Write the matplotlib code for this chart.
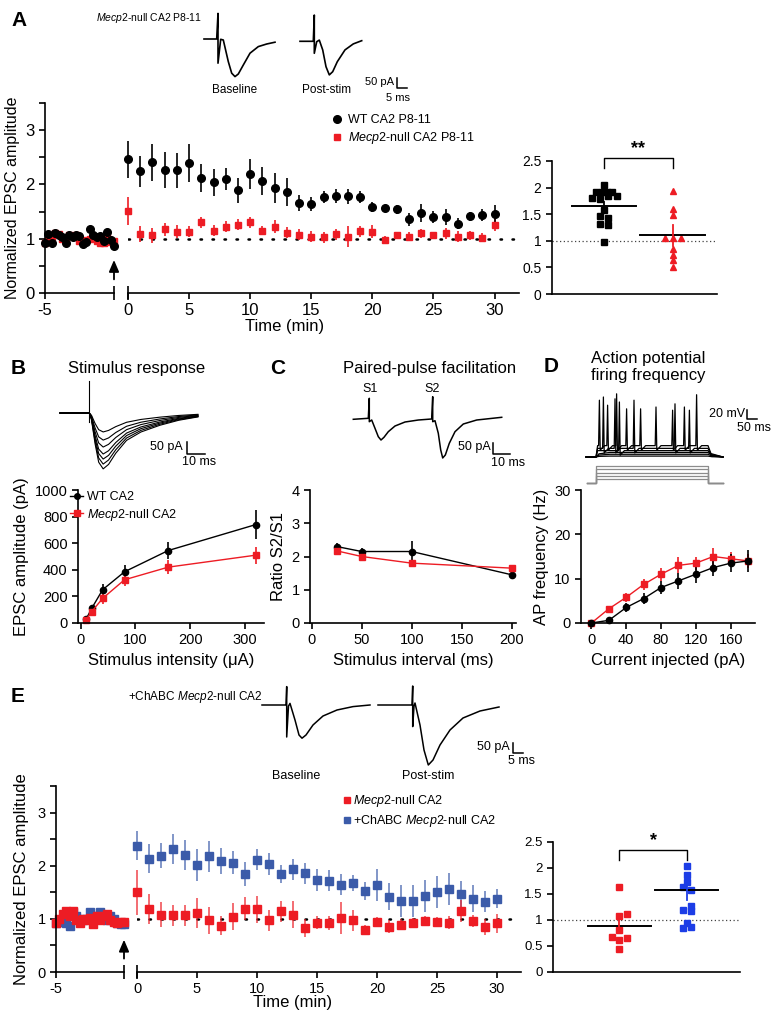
import numpy as np
import matplotlib
matplotlib.use("Agg")
import matplotlib.pyplot as plt
from matplotlib.lines import Line2D

plt.rcParams.update({
    'font.family': ['Liberation Sans', 'DejaVu Sans'],
    'mathtext.fontset': 'custom',
    'mathtext.rm': 'Liberation Sans',
    'mathtext.it': 'Liberation Sans:italic',
    'axes.unicode_minus': False,
    'axes.linewidth': 1.2,
    'xtick.major.width': 1.2, 'ytick.major.width': 1.2,
    'xtick.major.size': 4, 'ytick.major.size': 4,
})

RED = '#ed1c24'
BLUE = '#3b5ba9'
BRIGHT_BLUE = '#1c3de6'
MECP2 = r'$\mathit{Mecp2}$'

# ---------------- A: LTP time course, P8-11 ----------------
base_t = np.round(np.arange(-5, -0.99, 0.2), 1)
post_t = np.arange(0, 31)

a_wt_base = [0.92, 1.09, 0.93, 1.10, 1.06, 1.04, 0.92, 1.06, 1.04, 1.07, 1.05,
             0.90, 0.94, 1.18, 1.07, 1.04, 1.05, 0.95, 1.12, 0.97, 0.86]
a_wt_base_err = [0.05, 0.06, 0.05, 0.05, 0.04, 0.05, 0.05, 0.06, 0.04, 0.05, 0.05,
                 0.04, 0.05, 0.06, 0.05, 0.04, 0.05, 0.05, 0.06, 0.05, 0.05]
a_null_base = [0.92, 0.98, 1.04, 1.10, 1.08, 1.00, 1.02, 1.06, 1.05, 1.07, 0.96,
               0.95, 0.98, 1.00, 1.02, 0.95, 0.92, 0.92, 1.04, 0.94, 0.96]
a_null_base_err = [0.06, 0.05, 0.06, 0.05, 0.06, 0.05, 0.07, 0.05, 0.06, 0.05, 0.06,
                   0.05, 0.06, 0.05, 0.06, 0.05, 0.06, 0.05, 0.06, 0.05, 0.05]
a_wt_post = [2.46, 2.24, 2.41, 2.26, 2.26, 2.39, 2.12, 2.04, 2.10, 1.89, 2.19,
             2.07, 1.93, 1.86, 1.66, 1.64, 1.76, 1.78, 1.78, 1.77, 1.59,
             1.57, 1.54, 1.36, 1.47, 1.40, 1.40, 1.28, 1.41, 1.44, 1.46]
a_wt_err = [0.34, 0.28, 0.34, 0.33, 0.32, 0.35, 0.26, 0.25, 0.20, 0.23, 0.27,
            0.26, 0.28, 0.26, 0.15, 0.13, 0.11, 0.13, 0.14, 0.11, 0.09,
            0.06, 0.08, 0.12, 0.17, 0.11, 0.15, 0.10, 0.09, 0.11, 0.16]
a_null_post = [1.51, 1.09, 1.06, 1.17, 1.13, 1.13, 1.30, 1.15, 1.22, 1.26, 1.30,
               1.15, 1.22, 1.11, 1.07, 1.04, 1.03, 1.08, 1.04, 1.14, 1.13,
               0.98, 1.06, 1.04, 1.10, 1.06, 1.10, 1.04, 1.06, 1.02, 1.26]
a_null_err = [0.25, 0.15, 0.14, 0.12, 0.12, 0.10, 0.10, 0.10, 0.10, 0.10, 0.10,
              0.09, 0.12, 0.10, 0.10, 0.10, 0.10, 0.10, 0.20, 0.10, 0.12,
              0.07, 0.07, 0.08, 0.08, 0.07, 0.10, 0.10, 0.08, 0.08, 0.12]

# A: per-cell potentiation (value, horizontal jitter)
a_sc_wt = [2.05, 1.92, 1.91, 1.92, 1.91, 1.84, 1.81, 1.78, 1.84, 1.57, 1.47, 1.42, 1.32, 1.29, 0.97]
a_sc_wt_jit = [0, -0.116, -0.034, 0.048, 0.111, 0.184, -0.179, -0.058, 0.063, 0, -0.058, 0.058, -0.058, 0.058, 0]
a_sc_null = [1.93, 1.59, 1.48, 1.06, 1.06, 1.06, 0.84, 0.73, 0.63, 0.51]
a_sc_null_jit = [0, 0, 0, -0.111, 0, 0.121, 0, 0, 0, 0]
a_sc_mean = [1.65, 1.10]
a_sc_sem = [0.08, 0.19]

# A example traces (ms, pA)
a_base_tr_t = [0, 6.35, 7, 7, 8.35, 9.65, 12.15, 13.85, 15.5, 17.15, 19.65, 23, 27.15, 31.35, 35.5]
a_base_tr_i = [0, 0, 128, -121, -1.5, -5, -113, -171, -188, -175, -130, -71, -38, -25, -16]
a_post_tr_t = [0, 6.65, 7.15, 7.15, 8.35, 9.65, 11.35, 13, 14.65, 16.35, 18.65, 22.5, 26.65, 30.85]
a_post_tr_i = [0, 0, 131, -60, -2, 6, -43, -127, -168, -152, -102, -43, -13, 3]

# ---------------- B: input-output ----------------
b_int = [10, 20, 40, 80, 160, 320]
b_wt = [30, 110, 250, 385, 545, 740]
b_wt_err = [10, 25, 45, 50, 65, 110]
b_null = [25, 85, 185, 325, 420, 510]
b_null_err = [10, 20, 40, 45, 55, 65]
b_tr_amp = [79, 113, 142, 171, 192, 213, 233]
b_tr_shape_t = [0, 16.3, 17.5, 19.5, 21.5, 24, 27, 31, 37, 45, 55.5, 66, 76.7]
b_tr_shape_f = [0, 0, 0.12, 0.55, 0.88, 1.0, 0.92, 0.72, 0.49, 0.34, 0.22, 0.13, 0.07]
b_artifact = [16.3, 133, -37]

# ---------------- C: paired-pulse ----------------
c_int = [25, 50, 100, 200]
c_wt = [2.30, 2.15, 2.15, 1.45]
c_wt_err = [0.12, 0.10, 0.32, 0.05]
c_null = [2.17, 2.00, 1.80, 1.65]
c_null_err = [0.10, 0.15, 0.08, 0.05]
c_tr_t = [0, 8.85, 9.44, 9.44, 10.86, 12.8, 14.75, 16.34, 18.1, 20.65, 24.6, 30.5, 38.35, 46.26,
          46.85, 46.85, 48.2, 50.15, 51.57, 52.75, 54.3, 56.64, 60, 64.9, 72.8, 87.56]
c_tr_i = [0, 4.5, 94.5, -10.8, -3.2, -40.5, -78.3, -93.2, -81, -55.8, -30.2, -12.2, -3.2, 1.4,
          101.7, -10.8, -6.3, -63, -138, -174, -160.6, -108, -55.8, -21.2, -3.2, 9]

# ---------------- D: AP firing ----------------
d_cur = [0, 20, 40, 60, 80, 100, 120, 140, 160, 180]
d_null = [0, 3.2, 5.8, 8.7, 11, 13, 13.5, 15, 14.5, 14]
d_null_err = [0.2, 0.5, 1.0, 1.3, 1.5, 1.8, 1.5, 2.0, 1.5, 1.5]
d_wt = [0, 0.6, 3.5, 5.5, 8, 9.5, 11, 12.5, 13.5, 14]
d_wt_err = [0.2, 0.3, 1.0, 1.3, 1.5, 1.8, 2.0, 2.0, 2.0, 2.5]
d_spikes = [[67, 108, 153, 203, 273, 350, 433, 492, 553], [87, 145, 240, 445, 517], [167]]
d_peaks = [[125, 114, 139, 106, 106, 110, 103, 110, 137], [132, 128, 125, 117, 103], [121]]
d_spike_plateau = [25, 19, 14]
d_sub_plateau = [2, 6, 10]
d_step_on, d_step_off, d_sweep_end = 50, 610, 685
d_protocol = [20, 40, 60, 80, 100]

# ---------------- E: ChABC rescue ----------------
e_null_base = [0.93, 1.00, 1.10, 1.15, 1.05, 1.15, 0.97, 0.93, 1.00, 0.98, 1.02,
               0.90, 1.05, 0.98, 1.05, 1.10, 0.97, 0.95, 0.93, 0.95, 0.94]
e_chabc_base = [0.92, 0.95, 0.97, 0.92, 0.87, 1.12, 1.05, 1.00, 0.97, 1.00, 1.12,
                1.00, 1.05, 1.12, 1.00, 0.97, 1.05, 1.00, 0.93, 0.90, 0.90]
e_base_err = [0.05, 0.06, 0.05, 0.06, 0.05, 0.06, 0.05, 0.05, 0.06, 0.05, 0.05,
              0.06, 0.05, 0.05, 0.06, 0.05, 0.06, 0.05, 0.05, 0.06, 0.05]
e_chabc_post = [2.38, 2.13, 2.19, 2.31, 2.20, 2.01, 2.18, 2.09, 2.06, 1.84, 2.11,
                2.03, 1.84, 1.93, 1.86, 1.73, 1.72, 1.64, 1.67, 1.52, 1.63,
                1.42, 1.34, 1.33, 1.43, 1.50, 1.57, 1.47, 1.38, 1.32, 1.38]
e_chabc_err = [0.27, 0.27, 0.24, 0.28, 0.28, 0.30, 0.29, 0.24, 0.22, 0.23, 0.20,
               0.20, 0.17, 0.20, 0.20, 0.20, 0.20, 0.20, 0.15, 0.17, 0.30,
               0.25, 0.30, 0.30, 0.30, 0.30, 0.30, 0.25, 0.25, 0.20, 0.18]
e_null_post = [1.50, 1.19, 1.08, 1.07, 1.07, 1.11, 0.97, 0.87, 1.04, 1.19, 1.18,
               0.97, 1.14, 1.08, 0.83, 0.93, 0.92, 1.02, 0.97, 0.79, 0.94,
               0.85, 0.89, 0.92, 0.96, 0.94, 0.93, 1.15, 0.96, 0.84, 0.92]
e_null_err = [0.42, 0.28, 0.23, 0.20, 0.20, 0.28, 0.25, 0.18, 0.25, 0.22, 0.25,
              0.20, 0.20, 0.25, 0.17, 0.13, 0.13, 0.30, 0.20, 0.10, 0.10,
              0.12, 0.10, 0.10, 0.10, 0.10, 0.12, 0.20, 0.12, 0.15, 0.18]
e_sc_null = [1.63, 1.07, 1.12, 0.80, 0.67, 0.66, 0.62, 0.44]
e_sc_null_jit = [0, 0, 0.117, 0, -0.114, 0.117, 0, 0]
e_sc_chabc = [2.04, 1.86, 1.74, 1.63, 1.58, 1.27, 1.20, 1.17, 0.94, 0.85, 0.87]
e_sc_chabc_jit = [0, 0, 0, -0.06, 0.06, 0.06, -0.06, 0.06, 0, -0.06, 0.06]
e_sc_mean = [0.88, 1.58]
e_sc_sem = [0.13, 0.20]
e_base_tr_t = [0, 12, 12.35, 12.35, 13.25, 14, 16.5, 18.5, 20, 22, 25.5, 30.5, 37.5, 45.5, 54]
e_base_tr_i = [0, 0, 92, -160, -5, 8, -75, -150, -166, -150, -100, -55, -25, -8, 0]
e_post_tr_t = [0, 17, 17.35, 17.35, 18, 18.5, 21, 23, 25.15, 27.5, 31, 36, 42.5, 51, 60.5]
e_post_tr_i = [0, 0, 95, -108, -5, 10, -100, -225, -300, -275, -200, -125, -65, -30, -10]

# ---------------- layout helpers (pixel coordinates) ----------------
W, H = 779, 1019
fig = plt.figure(figsize=(W / 100, H / 100), dpi=100)


def box(x0, y0, x1, y1, **kw):
    return fig.add_axes([x0 / W, 1 - y1 / H, (x1 - x0) / W, (y1 - y0) / H], **kw)


def ftxt(x, y, s, **kw):
    kw.setdefault('va', 'center')
    return fig.text(x / W, 1 - y / H, s, **kw)


def draw_traces(ox, oy, sx, sy, traces, color='k', lw=1.0):
    # (ox, oy): pixel of the data origin; sx, sy: data units per pixel
    allt = np.concatenate([np.asarray(t, float) for t, v in traces])
    allv = np.concatenate([np.asarray(v, float) for t, v in traces])
    x0, x1 = ox + allt.min() / sx - 3, ox + allt.max() / sx + 3
    y0, y1 = oy - allv.max() / sy - 3, oy - allv.min() / sy + 3
    ax = box(x0, y0, x1, y1)
    ax.set_xlim((x0 - ox) * sx, (x1 - ox) * sx)
    ax.set_ylim((oy - y1) * sy, (oy - y0) * sy)
    ax.axis('off')
    for t, v in traces:
        ax.plot(t, v, color=color, lw=lw, solid_joinstyle='round')
    return ax


def scalebar(xc, yc, sx, sy, lx, ly):
    draw_traces(xc, yc, sx, sy, [([0, 0, lx], [ly, 0, 0])], lw=1.1)


def eb(ax, x, y, e, fmt, color, ms, lw=1.0, ecolor=None, alpha=1.0):
    c = ax.errorbar(x, y, yerr=e, fmt=fmt, color=color, ecolor=ecolor or color, ms=ms,
                    mec=color, elinewidth=1.2, capsize=0, lw=lw)
    for art in c.get_children():
        art.set_clip_on(False)
    c[2][0].set_alpha(alpha)
    return c


def timecourse(x0, xb0, xb1, x1, y_top, y_bot, fs):
    axl = box(x0, y_top, xb0, y_bot)
    axr = box(xb1, y_top, x1, y_bot, sharey=axl)
    for ax in (axl, axr):
        ax.spines[['top', 'right']].set_visible(False)
        ax.set_facecolor('none')
    axr.spines['left'].set_visible(False)
    axr.tick_params(axis='y', left=False, labelleft=False)
    axl.set_ylim(0, 3.5)
    yt = np.arange(0, 3.51, 0.5)
    axl.set_yticks(yt, [f'{v:g}' if v == int(v) else '' for v in yt])
    axl.set_xlim(-5, -1)
    axl.set_xticks([-5])
    axl.set_xticks([-1], minor=True)
    axr.set_xlim(0, 32)
    axr.set_xticks(np.arange(0, 31, 5))
    axr.xaxis.remove_overlapping_locs = False
    axr.set_xticks([0], minor=True)
    for ax in (axl, axr):
        ax.tick_params(which='minor', direction='inout', length=10, width=1.2)
        ax.tick_params(labelsize=fs)
    axr.axhline(1, color='k', lw=1.8, ls=(0, (0.6, 4.2)), dash_capstyle='round', zorder=1)
    axl.annotate('', xy=(-1, 0.66), xytext=(-1, 0.2),
                 arrowprops=dict(arrowstyle='-|>,head_length=0.7,head_width=0.3',
                                 color='k', lw=1.3), annotation_clip=False)
    return axl, axr


def scatter_panel(x0, y_top, x1, y_bot, xlim, fs):
    ax = box(x0, y_top, x1, y_bot)
    ax.spines[['top', 'right']].set_visible(False)
    ax.set_xlim(*xlim)
    ax.set_ylim(0, 2.5)
    ax.set_xticks([])
    ax.set_yticks(np.arange(0, 2.51, 0.5), ['0', '0.5', '1', '1.5', '2', '2.5'])
    ax.tick_params(labelsize=fs)
    ax.axhline(1, color='#444444', lw=0.9, ls=(0, (1, 2)), zorder=0)
    return ax


def group_summary(ax, g, mean, sem, sem_color):
    ax.plot([g - 0.47, g + 0.47], [mean, mean], color='k', lw=1.4, zorder=3)
    ax.plot([g, g], [mean - sem, mean + sem], color=sem_color, lw=1.3, zorder=3)


def bracket(ax, y_low, y_high, star):
    ax.plot([1, 1, 2, 2], [y_low, y_high, y_high, y_low], color='k', lw=1.0, clip_on=False)
    ax.text(1.5, y_high + 0.03, star, ha='center', va='bottom', fontsize=13, fontweight='bold')


# ---------------- Panel A ----------------
ftxt(19, 20, 'A', fontsize=15, fontweight='bold', ha='center')
ftxt(202, 18, MECP2 + '-null CA2 P8-11', fontsize=7.5, ha='right')
draw_traces(204, 39, 0.5, 5, [(a_base_tr_t, a_base_tr_i)], lw=1.2)
draw_traces(300, 41.3, 0.5, 5, [(a_post_tr_t, a_post_tr_i)], lw=1.2)
scalebar(397, 88, 0.5, 5, 5, 50)
ftxt(394, 82, '50 pA', fontsize=8, ha='right')
ftxt(398, 98, '5 ms', fontsize=8, ha='center')
ftxt(235, 90, 'Baseline', fontsize=8.5, ha='center')
ftxt(327, 90, 'Post-stim', fontsize=8.5, ha='center')

axl, axr = timecourse(45, 114, 128, 519, 103, 293, 12)
eb(axl, base_t, a_null_base, a_null_base_err, 's', RED, 5)
eb(axl, base_t, a_wt_base, a_wt_base_err, 'o', 'k', 5.5)
eb(axr, post_t, a_null_post, a_null_err, 's', RED, 5)
eb(axr, post_t, a_wt_post, a_wt_err, 'o', 'k', 5.5)
axl.set_ylabel('Normalized EPSC amplitude', fontsize=11.5, labelpad=4)
ftxt(285, 327, 'Time (min)', fontsize=12, ha='center')
handles = [Line2D([], [], marker='o', color='k', ls='none', ms=5.5),
           Line2D([], [], marker='s', color=RED, ls='none', ms=5)]
fig.legend(handles, ['WT CA2 P8-11', MECP2 + '-null CA2 P8-11'], loc='upper left',
           bbox_to_anchor=(331 / W, 1 - 114 / H), frameon=False, fontsize=9,
           borderpad=0, borderaxespad=0, handlelength=1, handletextpad=0.4, labelspacing=0.35)

axs = scatter_panel(552, 161, 717, 294, (0.246, 2.64), 10)
axs.plot(1 + np.array(a_sc_wt_jit), a_sc_wt, 's', color='k', ms=4.5)
axs.plot(2 + np.array(a_sc_null_jit), a_sc_null, '^', color=RED, ms=4.5)
group_summary(axs, 1, a_sc_mean[0], a_sc_sem[0], 'k')
group_summary(axs, 2, a_sc_mean[1], a_sc_sem[1], RED)
bracket(axs, 2.36, 2.55, '**')

# ---------------- Panel B ----------------
ftxt(18, 368, 'B', fontsize=15, fontweight='bold', ha='center')
ftxt(137, 368, 'Stimulus response', fontsize=12, ha='center')
b_traces = [(b_tr_shape_t, [-a * f for f in b_tr_shape_f]) for a in b_tr_amp]
b_traces.append(([b_artifact[0]] * 2, b_artifact[1:]))
draw_traces(60, 413, 0.556, 4.17, b_traces, lw=0.8)
scalebar(187, 454, 0.556, 4.17, 10, 50)
ftxt(183, 447, '50 pA', fontsize=9, ha='right')
ftxt(199, 462, '10 ms', fontsize=9, ha='center')

axb = box(78, 490, 264, 623)
axb.spines[['top', 'right']].set_visible(False)
eb(axb, b_int, b_wt, b_wt_err, '-o', 'k', 4.5)
eb(axb, b_int, b_null, b_null_err, '-s', RED, 5)
axb.set_xlim(-5, 335)
axb.set_ylim(0, 1000)
axb.set_xticks([0, 100, 200, 300])
axb.set_yticks(np.arange(0, 1001, 200))
axb.tick_params(labelsize=10.5)
axb.set_xlabel('Stimulus intensity (\u03bcA)', fontsize=12)
axb.set_ylabel('EPSC amplitude (pA)', fontsize=12)
hb = [Line2D([], [], marker='o', color='k', ms=4, lw=1),
      Line2D([], [], marker='s', color=RED, ms=4.5, lw=1)]
fig.legend(hb, ['WT CA2', MECP2 + '-null CA2'], loc='upper left',
           bbox_to_anchor=(70 / W, 1 - 491 / H), frameon=False, fontsize=9,
           borderpad=0, borderaxespad=0, handlelength=1.05, handletextpad=0.3, labelspacing=0.3)

# ---------------- Panel C ----------------
ftxt(278, 368, 'C', fontsize=15, fontweight='bold', ha='center')
ftxt(430, 368, 'Paired-pulse facilitation', fontsize=12, ha='center')
draw_traces(353.3, 419.3, 0.59, 4.5, [(c_tr_t, c_tr_i)], lw=1.1)
ftxt(370, 389, 'S1', fontsize=9, ha='center')
ftxt(432, 389, 'S2', fontsize=9, ha='center')
scalebar(493, 454, 0.59, 4.5, 10, 50)
ftxt(491, 447, '50 pA', fontsize=9, ha='right')
ftxt(508, 463, '10 ms', fontsize=9, ha='center')

axc = box(310, 490, 516, 623)
axc.spines[['top', 'right']].set_visible(False)
eb(axc, c_int, c_wt, c_wt_err, '-o', 'k', 4.5)
eb(axc, c_int, c_null, c_null_err, '-s', RED, 5)
axc.set_xlim(-1.7, 204.3)
axc.set_ylim(0, 4)
axc.set_xticks([0, 50, 100, 150, 200])
axc.set_yticks([0, 1, 2, 3, 4])
axc.tick_params(labelsize=10.5)
axc.set_xlabel('Stimulus interval (ms)', fontsize=12)
axc.set_ylabel('Ratio S2/S1', fontsize=12)

# ---------------- Panel D ----------------
ftxt(551, 367, 'D', fontsize=15, fontweight='bold', ha='center')
ftxt(648, 367, 'Action potential\nfiring frequency', fontsize=12, ha='center',
     multialignment='center', linespacing=1.1)
d_traces = []
for p in d_sub_plateau:
    d_traces.append(([0, d_step_on, d_step_on + 15, d_step_on + 70, d_step_off, d_step_off + 20, d_sweep_end],
                     [0, 0, 0.7 * p, p, p, 0.3 * p, 0]))
for p, spk, pk in zip(d_spike_plateau, d_spikes, d_peaks):
    t = [0, d_step_on, d_step_on + 8]
    v = [0, 0, p]
    for ts, vp in zip(spk, pk):
        t += [ts - 4, ts, ts + 4, ts + 25]
        v += [p, vp, p - 10, p]
    t += [d_step_off, d_step_off + 15, d_sweep_end]
    v += [p, 0.3 * p, 0]
    d_traces.append((t, v))
draw_traces(586, 457, 5, 2.2, d_traces, lw=0.9)
prot = [([5, d_step_on, d_step_on, d_step_off, d_step_off, d_sweep_end], [0, 0, s, s, 0, 0])
        for s in d_protocol]
draw_traces(586, 482.7, 5, 6, prot, color='#8c8c8c', lw=0.9)
scalebar(747, 419, 5, 2.2, 50, 20)
ftxt(745, 414, '20 mV', fontsize=9, ha='right')
ftxt(754, 428, '50 ms', fontsize=9, ha='center')

axd = box(581, 490, 755, 623)
axd.spines[['top', 'right']].set_visible(False)
eb(axd, d_cur, d_null, d_null_err, '-s', RED, 5)
eb(axd, d_cur, d_wt, d_wt_err, '-o', 'k', 4.5)
axd.set_xlim(-12, 188)
axd.set_ylim(0, 30)
axd.set_xticks([0, 40, 80, 120, 160])
axd.set_yticks([0, 10, 20, 30])
axd.tick_params(labelsize=10.5)
axd.set_xlabel('Current injected (pA)', fontsize=12)
axd.set_ylabel('AP frequency (Hz)', fontsize=12)

# ---------------- Panel E ----------------
ftxt(18, 697, 'E', fontsize=15, fontweight='bold', ha='center')
ftxt(128, 697, '+ChABC ' + MECP2 + '-null CA2', fontsize=8.5)
draw_traces(262, 705, 0.5, 5, [(e_base_tr_t, e_base_tr_i)], lw=1.1)
draw_traces(378, 705, 0.5, 5, [(e_post_tr_t, e_post_tr_i)], lw=1.1)
scalebar(513, 753, 0.5, 5, 5, 50)
ftxt(510, 747, '50 pA', fontsize=9, ha='right')
ftxt(521, 761, '5 ms', fontsize=9, ha='center')
ftxt(296, 776, 'Baseline', fontsize=9, ha='center')
ftxt(428, 776, 'Post-stim', fontsize=9, ha='center')

el, er = timecourse(56, 124, 137, 521, 786, 972, 10.5)
eb(el, base_t, e_chabc_base, e_base_err, 's', BLUE, 5.5, alpha=0.75)
eb(el, base_t, e_null_base, e_base_err, 's', RED, 5.5, alpha=0.75)
eb(er, post_t, e_chabc_post, e_chabc_err, 's', BLUE, 5.5, alpha=0.75)
eb(er, post_t, e_null_post, e_null_err, 's', RED, 5.5, alpha=0.75)
el.set_ylabel('Normalized EPSC amplitude', fontsize=12, labelpad=6)
ftxt(293, 1003, 'Time (min)', fontsize=12, ha='center')
he = [Line2D([], [], marker='s', color=RED, ls='none', ms=5),
      Line2D([], [], marker='s', color=BLUE, ls='none', ms=5)]
fig.legend(he, [MECP2 + '-null CA2', '+ChABC ' + MECP2 + '-null CA2'], loc='upper left',
           bbox_to_anchor=(344 / W, 1 - 793 / H), frameon=False, fontsize=9,
           borderpad=0, borderaxespad=0, handlelength=0.5, handletextpad=0.25, labelspacing=0.35)

es = scatter_panel(553, 842, 740, 972, (0.016, 2.79), 9.5)
es.plot(1 + np.array(e_sc_null_jit), e_sc_null, 's', color=RED, ms=4.5)
es.plot(2 + np.array(e_sc_chabc_jit), e_sc_chabc, 's', color=BRIGHT_BLUE, ms=4.5)
group_summary(es, 1, e_sc_mean[0], e_sc_sem[0], RED)
group_summary(es, 2, e_sc_mean[1], e_sc_sem[1], BRIGHT_BLUE)
bracket(es, 2.15, 2.34, '*')

fig.savefig('out.png', dpi=100, facecolor='white')
